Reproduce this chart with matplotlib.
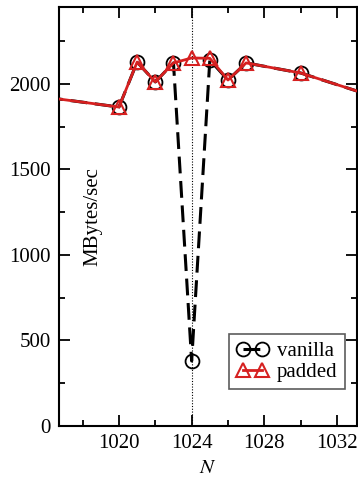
import matplotlib
matplotlib.use("Agg")
import matplotlib.pyplot as plt
from matplotlib.ticker import MultipleLocator

plt.rcParams['font.family'] = ['Liberation Serif', 'DejaVu Serif']
plt.rcParams['mathtext.fontset'] = 'stix'

n_vanilla = [1016, 1020, 1021, 1022, 1023, 1024, 1025, 1026, 1027, 1030, 1036]
vanilla = [1922, 1865, 2128, 2012, 2123, 380, 2140, 2023, 2123, 2064, 1860]
n_padded = [1016, 1020, 1021, 1022, 1023, 1024, 1025, 1026, 1027, 1030, 1036]
padded = [1922, 1865, 2128, 2012, 2123, 2152, 2150, 2023, 2123, 2064, 1860]

fig = plt.figure(figsize=(3.58, 4.78), dpi=100)
ax = fig.add_axes([59/358, 52/478, 298/358, 419/478])

ax.axvline(1024, color='black', lw=0.8, ls=(0, (1, 1.5)), zorder=1)

ax.plot(n_vanilla, vanilla, color='black', lw=2.2, ls=(0, (5.5, 2.5)),
        marker='o', ms=10, mfc='none', mec='black', mew=1.3, label='vanilla', zorder=2)
ax.plot(n_padded, padded, color='#d62020', lw=2, ls='-',
        marker='^', ms=10.5, mfc='none', mec='#d62020', mew=1.5, label='padded', zorder=3)

ax.set_xlim(1016.7, 1033.1)
ax.set_ylim(0, 2450)
ax.xaxis.set_major_locator(MultipleLocator(4))
ax.xaxis.set_minor_locator(MultipleLocator(2))
ax.yaxis.set_major_locator(MultipleLocator(500))
ax.yaxis.set_minor_locator(MultipleLocator(250))
ax.tick_params(which='both', direction='in', top=True, right=True, width=1.3, labelsize=15)
ax.tick_params(which='major', length=8)
ax.tick_params(which='minor', length=4)
ax.tick_params(axis='x', which='major', pad=6)
ax.tick_params(axis='y', which='major', pad=6)
for s in ax.spines.values():
    s.set_linewidth(1.5)

ax.text(0.113, 0.499, 'MBytes/sec', rotation=90, transform=ax.transAxes,
        ha='center', va='center', fontsize=15)
ax.set_xlabel('$N$', fontsize=15, labelpad=4)

leg = ax.legend(loc='lower right', bbox_to_anchor=(0.96, 0.088), numpoints=2,
                handlelength=1.5, fontsize=15, frameon=True, fancybox=False,
                edgecolor='#333333', borderpad=0.35, labelspacing=0.05,
                handletextpad=0.45, borderaxespad=0)
leg.get_frame().set_linewidth(1.2)

fig.savefig('out.png', dpi=100)
